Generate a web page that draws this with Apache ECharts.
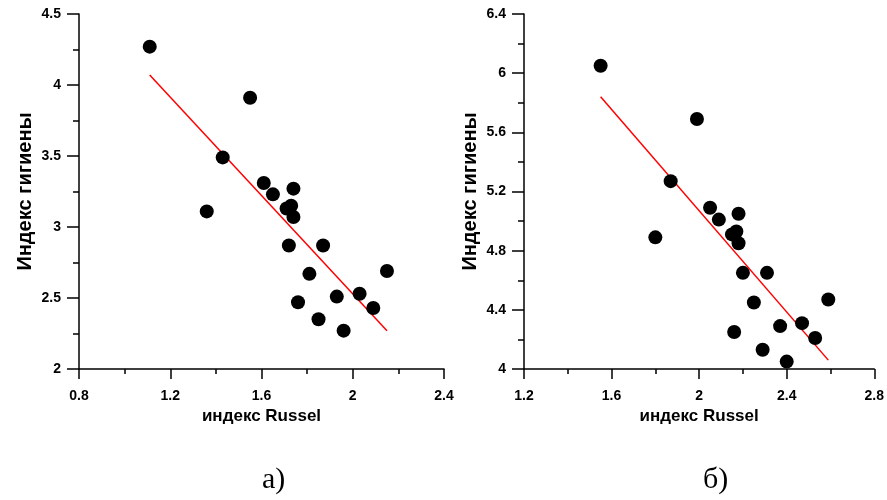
<!DOCTYPE html>
<html>
<head>
<meta charset="utf-8">
<script src="https://cdn.jsdelivr.net/npm/echarts@6/dist/echarts.min.js"></script>
<style>
html, body { margin: 0; padding: 0; background: #fff; }
#chart { width: 887px; height: 500px; }
</style>
</head>
<body>
<div id="chart"></div>
<script>
// панель а)
var russelA = [1.11, 1.55, 1.43, 1.36, 1.61, 1.65, 1.74, 1.73, 1.71, 1.74, 1.72, 1.87, 1.81, 2.15, 1.76, 1.93, 2.03, 2.09, 1.85, 1.96]
var hygieneA = [4.27, 3.91, 3.49, 3.11, 3.31, 3.23, 3.27, 3.15, 3.13, 3.07, 2.87, 2.87, 2.67, 2.69, 2.47, 2.51, 2.53, 2.43, 2.35, 2.27]
var fitA = [[1.11, 4.07], [2.15, 2.27]]

// панель б)
var russelB = [1.55, 1.99, 1.87, 1.80, 2.05, 2.09, 2.18, 2.17, 2.15, 2.18, 2.20, 2.31, 2.59, 2.25, 2.37, 2.47, 2.53, 2.16, 2.29, 2.40]
var hygieneB = [6.05, 5.69, 5.27, 4.89, 5.09, 5.01, 5.05, 4.93, 4.91, 4.85, 4.65, 4.65, 4.47, 4.45, 4.29, 4.31, 4.21, 4.25, 4.13, 4.05]
var fitB = [[1.55, 5.84], [2.59, 4.06]]

var xName = 'индекс Russel'
var yName = 'Индекс гигиены'
var font = "'Liberation Sans', Arial, sans-serif"

function pairs(xs, ys) {
    let out = []
    for (let i = 0; i < xs.length; i++) {
        out.push([xs[i], ys[i]])
    }
    return out
}

function xAxis(idx, min, max) {
    return {
        gridIndex: idx,
        type: 'value',
        min: min,
        max: max,
        interval: 0.4,
        name: xName,
        nameLocation: 'middle',
        nameGap: 37,
        nameTextStyle: { color: '#000', fontWeight: 'bold', fontSize: 17, fontFamily: font },
        axisLine: { show: true, lineStyle: { color: '#000', width: 1.5 } },
        axisTick: { show: true, length: 10, lineStyle: { color: '#000', width: 1.5 } },
        minorTick: { show: true, splitNumber: 2, length: 5, lineStyle: { color: '#000', width: 1.5 } },
        axisLabel: { color: '#000', fontWeight: 'bold', fontSize: 14, fontFamily: font, margin: 20 },
        splitLine: { show: false }
    }
}

function yAxis(idx, min, max, step) {
    return {
        gridIndex: idx,
        type: 'value',
        min: min,
        max: max,
        interval: step,
        name: yName,
        nameLocation: 'middle',
        nameGap: 44,
        nameRotate: 90,
        nameTextStyle: { color: '#000', fontWeight: 'bold', fontSize: 20, fontFamily: font },
        axisLine: { show: true, lineStyle: { color: '#000', width: 1.5 } },
        axisTick: { show: true, length: 12, lineStyle: { color: '#000', width: 1.5 } },
        minorTick: { show: true, splitNumber: 2, length: 6, lineStyle: { color: '#000', width: 1.5 } },
        axisLabel: { color: '#000', fontWeight: 'bold', fontSize: 14, fontFamily: font, margin: 18 },
        splitLine: { show: false }
    }
}

var chart = echarts.init(document.getElementById('chart'), null, { renderer: 'canvas' })
var option = {
    animation: false,
    backgroundColor: '#fff',
    grid: [
        { left: 79, top: 14, width: 365, height: 355 },
        { left: 524, top: 14, width: 353, height: 355 }
    ],
    xAxis: [xAxis(0, 0.8, 2.4), xAxis(1, 1.2, 2.8)],
    yAxis: [yAxis(0, 2, 4.5, 0.5), yAxis(1, 4, 6.4, 0.4)],
    graphic: [
        { type: 'text', left: 262, top: 465, style: { text: 'а)', font: "30px 'Liberation Serif', 'Times New Roman', serif", fill: '#000' } },
        { type: 'text', left: 703, top: 465, style: { text: 'б)', font: "30px 'Liberation Serif', 'Times New Roman', serif", fill: '#000' } }
    ],
    series: [
        {
            type: 'line', xAxisIndex: 0, yAxisIndex: 0, data: fitA,
            symbol: 'none', lineStyle: { color: '#f00', width: 1.5 }, z: 1
        },
        {
            type: 'scatter', xAxisIndex: 0, yAxisIndex: 0, data: pairs(russelA, hygieneA),
            symbolSize: 14, itemStyle: { color: '#000', opacity: 1 }, z: 2
        },
        {
            type: 'line', xAxisIndex: 1, yAxisIndex: 1, data: fitB,
            symbol: 'none', lineStyle: { color: '#f00', width: 1.5 }, z: 1
        },
        {
            type: 'scatter', xAxisIndex: 1, yAxisIndex: 1, data: pairs(russelB, hygieneB),
            symbolSize: 14, itemStyle: { color: '#000', opacity: 1 }, z: 2
        }
    ]
}
chart.setOption(option)
</script>
</body>
</html>
